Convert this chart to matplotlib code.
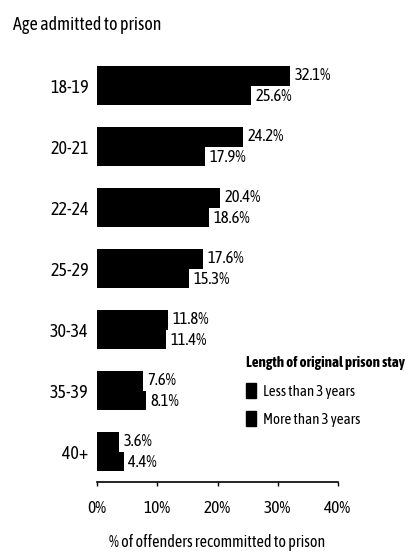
import matplotlib
matplotlib.use("Agg")
import matplotlib.pyplot as plt
from matplotlib.patches import Patch

plt.rcParams['font.family'] = ["Asap Condensed", "Archivo Narrow", "Liberation Sans", "DejaVu Sans"]

categories = ["18-19", "20-21", "22-24", "25-29", "30-34", "35-39", "40+"]
less_than_3 = [32.1, 24.2, 20.4, 17.6, 11.8, 7.6, 3.6]
more_than_3 = [25.6, 17.9, 18.6, 15.3, 11.4, 8.1, 4.4]
xticks = [0, 10, 20, 30, 40]
xticklabels = ["0%", "10%", "20%", "30%", "40%"]
series_labels = ["Less than 3 years", "More than 3 years"]

fig = plt.figure(figsize=(4.09, 5.52), dpi=100)
ax = fig.add_axes([97/409, 70/552, 241/409, 427/552])

h = 0.32
ys = list(range(len(categories)))
ax.barh([y - h/2 for y in ys], less_than_3, height=h, color="black", align="center")
ax.barh([y + h/2 for y in ys], more_than_3, height=h, color="black", align="center")

for y, a, b in zip(ys, less_than_3, more_than_3):
    ax.text(a + 0.8, y - h/2, f"{a}%", va="center", ha="left", fontsize=12)
    ax.text(b + 0.8, y + h/2 + 0.02, f"{b}%", va="center", ha="left", fontsize=12)

ax.set_ylim(6.5, -0.5)
ax.set_xlim(0, 40)
ax.set_yticks(ys)
ax.set_yticklabels(categories, fontsize=13)
ax.tick_params(axis="y", length=0, pad=6)
ax.set_xticks(xticks)
ax.set_xticklabels(xticklabels, fontsize=12.5)
ax.tick_params(axis="x", length=3, width=1, direction="out", pad=10)
for s in ["top", "right", "left"]:
    ax.spines[s].set_visible(False)
ax.spines["bottom"].set_linewidth(1.2)
ax.set_xlabel("% of offenders recommitted to prison", fontsize=11.5, labelpad=12)

fig.text(13/409, 1 - 25/552, "Age admitted to prison", fontsize=13, ha="left", va="center")

handles = [Patch(color="black"), Patch(color="black")]
leg = fig.legend(handles, series_labels, title="Length of original prison stay",
                 loc="upper left", bbox_to_anchor=(238/409, 1 - 349/552),
                 frameon=False, fontsize=10.8,
                 title_fontproperties={"family": ["Asap Condensed", "Archivo Narrow", "DejaVu Sans"], "weight": "bold", "size": 10.8},
                 handlelength=0.7, handleheight=1.1, handletextpad=0.45, labelspacing=0.85,
                 alignment="left", borderpad=0)

fig.savefig("out.png", dpi=100)
